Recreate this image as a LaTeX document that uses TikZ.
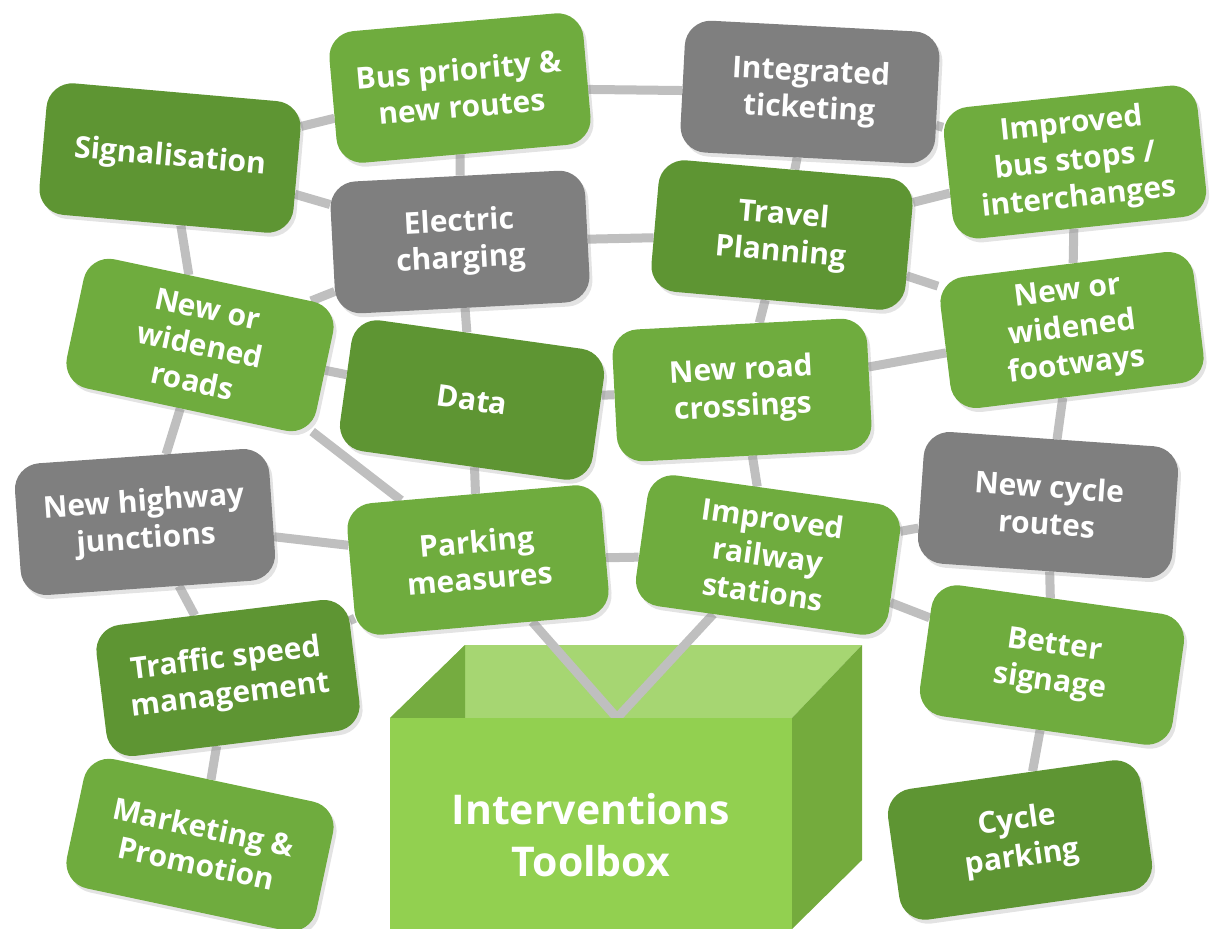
\documentclass[tikz,border=0pt]{standalone}
\usepackage{fontspec}
\setmainfont{Open Sans}
\usetikzlibrary{shadows,backgrounds}

\definecolor{leafgreen}{HTML}{6FAC3E}
\definecolor{mossgreen}{HTML}{5E9533}
\definecolor{slategrey}{HTML}{7F7F7F}
\definecolor{linkgrey}{HTML}{BFBFBF}
\definecolor{boxfront}{HTML}{92D050}
\definecolor{boxside}{HTML}{74AB3D}
\definecolor{boxinner}{HTML}{A6D672}
\definecolor{boxwall}{HTML}{75AC40}

\begin{document}
\begin{tikzpicture}[x=1pt,y=-1pt,
    tool node/.style={rectangle,rounded corners=26pt,minimum width=255pt,minimum height=132pt,inner sep=6pt,align=center,text=white,font=\bfseries\fontsize{30}{37}\selectfont,drop shadow={opacity=0.22,shadow xshift=3pt,shadow yshift=-4pt}},
    light node/.style={tool node,fill=leafgreen},
    dark node/.style={tool node,fill=mossgreen},
    grey node/.style={tool node,fill=slategrey}]
    \useasboundingbox (0,0) rectangle (1213,929);

    \node[dark node,rotate=-5] (sig) at (170,158) {Signalisation};
    \node[light node,rotate=5] (bus) at (460,88) {Bus priority \&\\new routes};
    \node[grey node,rotate=-3] (tick) at (810,92) {Integrated\\ticketing};
    \node[light node,rotate=6] (stop) at (1075,162) {Improved\\bus stops /\\interchanges};
    \node[grey node,rotate=3] (elec) at (460,242) {Electric\\charging};
    \node[dark node,rotate=-5] (trav) at (782,235) {Travel\\Planning};
    \node[light node,rotate=-12] (road) at (200,345) {New or\\widened\\roads};
    \node[dark node,rotate=-8] (data) at (472,400) {Data};
    \node[light node,rotate=3] (cross) at (742,390) {New road\\crossings};
    \node[light node,rotate=7] (foot) at (1072,330) {New or\\widened\\footways};
    \node[grey node,rotate=4] (hwy) at (145,522) {New highway\\junctions};
    \node[light node,rotate=5] (park) at (478,560) {Parking\\measures};
    \node[light node,rotate=-8] (rail) at (768,555) {Improved\\railway\\stations};
    \node[grey node,rotate=-4] (cyc) at (1048,505) {New cycle\\routes};
    \node[dark node,rotate=7] (speed) at (228,678) {Traffic speed\\management};
    \node[light node,rotate=-8] (sign) at (1052,665) {Better\\signage};
    \node[light node,rotate=-12] (mark) at (200,845) {Marketing \&\\Promotion};
    \node[dark node,rotate=8] (cpark) at (1020,840) {Cycle\\parking};

    % the open box
    \coordinate (vee) at (617,718);
    \begin{scope}[on background layer]
        \fill[boxinner] (465,645) -- (862,645) -- (792,718) -- (390,718) -- cycle;
        \fill[boxwall] (390,718) -- (465,645) -- (465,718) -- cycle;
        \path[every edge/.style={draw=linkgrey,line width=9pt}]
            (sig) edge (bus)
            (sig) edge (elec)
            (sig) edge (road)
            (bus) edge (tick)
            (bus) edge (elec)
            (tick) edge (trav)
            (tick) edge (stop)
            (elec) edge (trav)
            (elec) edge (road)
            (elec) edge (data)
            (trav) edge (stop)
            (trav) edge (foot)
            (trav) edge (cross)
            (stop) edge (foot)
            (road) edge (data)
            (road) edge (hwy)
            (road) edge (park)
            (data) edge (cross)
            (data) edge (park)
            (cross) edge (foot)
            (cross) edge (rail)
            (foot) edge (cyc)
            (hwy) edge (park)
            (hwy) edge (speed)
            (park) edge (rail)
            (park) edge (speed)
            (park) edge (vee)
            (rail) edge (vee)
            (rail) edge (cyc)
            (rail) edge (sign)
            (cyc) edge (sign)
            (sign) edge (cpark)
            (speed) edge (mark)
            ;
    \end{scope}
    \fill[boxside] (792,718) -- (862,645) -- (862,860) -- (792,929) -- cycle;
    \fill[boxfront] (390,718) rectangle (792,929);
    \node[text=white,font=\bfseries\fontsize{41}{52}\selectfont,align=center] (tool) at (591,835) {Interventions\\Toolbox};
\end{tikzpicture}
\end{document}
